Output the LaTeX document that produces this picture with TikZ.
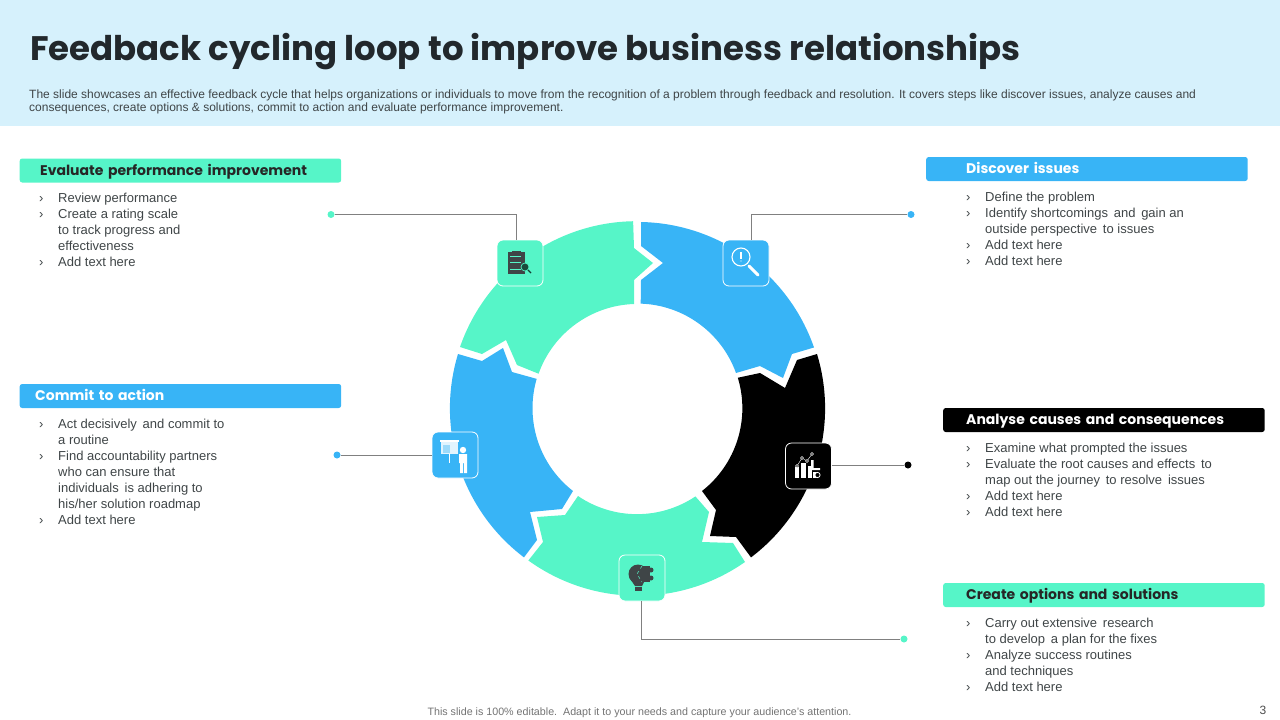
\documentclass[tikz,border=0pt]{standalone}
\usepackage{fontspec}
\setmainfont{Liberation Sans}
\newfontfamily\barfont{Poppins}
\usepackage{tikz}
\usetikzlibrary{positioning}
\definecolor{mint}{HTML}{56F5C8}
\definecolor{sky}{HTML}{38B4F6}
\definecolor{banner}{HTML}{D6F1FC}
\definecolor{ink}{HTML}{3F4547}
\definecolor{titleink}{HTML}{22282C}
\newcommand{\bul}[1]{\makebox[19pt][l]{›}#1}
\newcommand{\cont}[1]{\hspace*{19pt}#1}

\begin{document}
\begin{tikzpicture}[
    x=1pt, y=-1pt,
    bar/.style={rectangle, rounded corners=2.5pt, anchor=west, minimum height=24pt, inner ysep=0pt, inner xsep=#1, text width={321.5pt-2*#1}, text height=10pt, text depth=1pt, align=left, font=\barfont\bfseries\fontsize{14}{16}\selectfont},
    icon/.style={rectangle, draw=white, line width=0.8pt, rounded corners=6pt, minimum width=46pt, minimum height=46pt, inner sep=0pt},
    dot/.style={circle, minimum size=7pt, inner sep=0pt},
    list/.style={anchor=north west, align=left, inner sep=0pt, text=ink, font=\fontsize{13}{16}\selectfont},
    link/.style={draw=black!50, line width=0.7pt},
    small/.style={inner sep=0pt, text=black!55, font=\fontsize{10.7}{13}\selectfont}
]
    \useasboundingbox (0,0) rectangle (1280,720);

    % Banner
    \fill[banner] (0,0) rectangle (1280,126);
    \node[anchor=west, inner sep=0pt, text=titleink, font=\barfont\bfseries\fontsize{34}{40}\selectfont] (title) at (30,52) {Feedback cycling loop to improve business relationships};
    \node[anchor=north west, align=left, inner sep=0pt, text=ink, font=\fontsize{12}{13}\selectfont] (desc) at (29,90) {The slide showcases an effective feedback cycle that helps organizations or individuals to move from the recognition of a problem through feedback and resolution. It covers steps like discover issues, analyze causes and\\consequences, create options \& solutions, commit to action and evaluate performance improvement.};

    % Ring
    \fill[mint] (460,347) arc[start angle=199.1, delta angle=69.8, radius=187] -- (634,248) -- (653,263) -- (634,280) -- (634,304)
        arc[start angle=268.1, delta angle=-68.5, radius=105] -- (517,365) -- (506,340) -- (482,354) -- cycle;
    \fill[sky] (641,222) arc[start angle=271.1, delta angle=69.7, radius=187] -- (792,354) -- (783,378) -- (760,366) -- (736,373)
        arc[start angle=340.2, delta angle=-68.3, radius=105] -- (641,280) -- (663,263) -- (641,246) -- cycle;
    \fill[black] (817,354) arc[start angle=343.1, delta angle=69.75, radius=187] -- (736,537) -- (710,536) -- (716,510) -- (702,491)
        arc[start angle=52, delta angle=-68.9, radius=105] -- (760,373) -- (785,388) -- (797,360) -- cycle;
    \fill[mint] (745,562) arc[start angle=55, delta angle=70.8, radius=187] -- (543,542) -- (537,517) -- (565,515) -- (578,496)
        arc[start angle=124.2, delta angle=-68, radius=105] -- (709,512) -- (702,542) -- (733,543) -- cycle;
    \fill[sky] (458,354) arc[start angle=196.9, delta angle=-69.75, radius=187] -- (537,540) -- (530,512) -- (562,509) -- (573,491)
        arc[start angle=127.9, delta angle=68.3, radius=105] -- (512,372) -- (503,348) -- (482,361) -- cycle;

    % Icon boxes
    \node[icon, fill=mint] (icoEval) at (520,263) {};
    \node[icon, fill=sky] (icoDisc) at (746,263) {};
    \node[icon, fill=black] (icoAnal) at (808.5,466) {};
    \node[icon, fill=sky] (icoComm) at (455,455) {};
    \node[icon, fill=mint] (icoCrea) at (642,578) {};

    % Dots
    \node[dot, fill=mint] (dotEval) at (331,214.5) {};
    \node[dot, fill=sky] (dotDisc) at (911,214.5) {};
    \node[dot, fill=black] (dotAnal) at (908,465) {};
    \node[dot, fill=sky] (dotComm) at (337,455) {};
    \node[dot, fill=mint] (dotCrea) at (904,639) {};

    % Links
    \draw[link] (dotEval) -| ([xshift=-4pt]icoEval.north);
    \draw[link] (dotDisc) -| ([xshift=5pt]icoDisc.north);
    \draw[link] (dotAnal) -- (dotAnal -| icoAnal.east);
    \draw[link] (dotComm) -- (icoComm);
    \draw[link] (dotCrea) -| ([xshift=-1pt]icoCrea.south);

    % Clipboard icon
    \fill[ink] (508,252) rectangle (525,274);
    \fill[ink] (512,250.5) rectangle (521,253);
    \foreach \yy in {256,262,269} {
        \draw[mint, line width=0.5pt] (510,\yy) -- (521,\yy);
    }
    \draw[black!75!mint, line width=1.2pt] (531,273) -- (527,269);
    \draw[mint, fill=black!70!mint, line width=0.7pt] (525,267) circle (4);

    % Magnifier icon
    \draw[white, line width=1.1pt] (741,257) circle (9);
    \draw[white, line width=1.1pt] (741,252) -- (741,259);
    \fill[white] (741,261) circle (0.7);
    \draw[white, line width=3pt, line cap=round] (749,266) -- (758,275);

    % Chart icon
    \fill[white] (795,467) rectangle (799,478);
    \fill[white] (801,463) rectangle (805.5,478);
    \fill[white] (807.5,466) rectangle (811.5,478);
    \fill[white] (811,460) rectangle (813.5,470) (811,468) rectangle (820,470);
    \fill[white] (813,472) rectangle (818,478);
    \draw[white, fill=black, line width=0.8pt] (817.5,475) circle (2.6);
    \draw[white, line width=0.4pt] (797,466) -- (802,458) -- (807,461) -- (812,454);
    \foreach \px/\py in {797/466,802/458,807/461,812/454} {
        \draw[white, fill=black, line width=0.4pt] (\px,\py) circle (1.5);
    }

    % Presenter icon
    \fill[white!85!sky] (441,441) rectangle (458,454);
    \fill[white] (440,440) rectangle (459,442);
    \fill[sky!50!white] (443,445) rectangle (450,453);
    \draw[white, line width=0.8pt] (449.5,454) -- (449.5,463);
    \fill[white] (463,450) circle (3.2);
    \fill[white] (459,454) rectangle (467,463) (460,463) rectangle (463,473) (464,463) rectangle (467,473);

    % Bulb icon
    \fill[ink] (638,574) circle (9.5);
    \fill[ink] (629.5,578) -- (646,578) -- (642,586) -- (635,586) -- cycle;
    \fill[ink] (635,587) rectangle (642,591);
    \fill[ink] (642,566) rectangle (650,582);
    \fill[ink] (651,570) circle (2.5);
    \fill[ink] (651,578) circle (2.5);
    \draw[mint, line width=0.5pt, dashed] (642,566) -- (637,574) -- (642,582);

    % Headers
    \node[bar=20.5pt, fill=mint, text=black!85] (hEval) at (19.5,170.5) {Evaluate performance improvement};
    \node[bar=40pt, fill=sky, text=white] (hDisc) at (926,169) {Discover issues};
    \node[bar=15.5pt, fill=sky, text=white] (hComm) at (19.5,396) {Commit to action};
    \node[bar=23pt, fill=black, text=white] (hAnal) at (943,420) {Analyse causes and consequences};
    \node[bar=23pt, fill=mint, text=black!85] (hCrea) at (943,595) {Create options and solutions};

    % Lists
    \node[list] (lEval) at (39,193) {\bul{Review performance}\\\bul{Create a rating scale}\\\cont{to track progress and}\\\cont{effectiveness}\\\bul{Add text here}};
    \node[list] (lDisc) at (966,192) {\bul{Define the problem}\\\bul{Identify shortcomings\, and\, gain an}\\\cont{outside perspective\, to issues}\\\bul{Add text here}\\\bul{Add text here}};
    \node[list] (lComm) at (39,419) {\bul{Act decisively\, and commit to}\\\cont{a routine}\\\bul{Find accountability partners}\\\cont{who can ensure that}\\\cont{individuals\, is adhering to}\\\cont{his/her solution roadmap}\\\bul{Add text here}};
    \node[list] (lAnal) at (966,443) {\bul{Examine what prompted the issues}\\\bul{Evaluate the root causes and effects\, to}\\\cont{map out the journey\, to resolve\, issues}\\\bul{Add text here}\\\bul{Add text here}};
    \node[list] (lCrea) at (966,618) {\bul{Carry out extensive\, research}\\\cont{to develop\, a plan for the fixes}\\\bul{Analyze success routines}\\\cont{and techniques}\\\bul{Add text here}};

    % Footer
    \node[small] (foot) at (639.5,712.5) {This slide is 100\% editable.\ \ Adapt it to your needs and capture your audience's attention.};
    \node[small, text=black!70, font=\fontsize{12}{14}\selectfont] (page) at (1263,710) {3};
\end{tikzpicture}
\end{document}
